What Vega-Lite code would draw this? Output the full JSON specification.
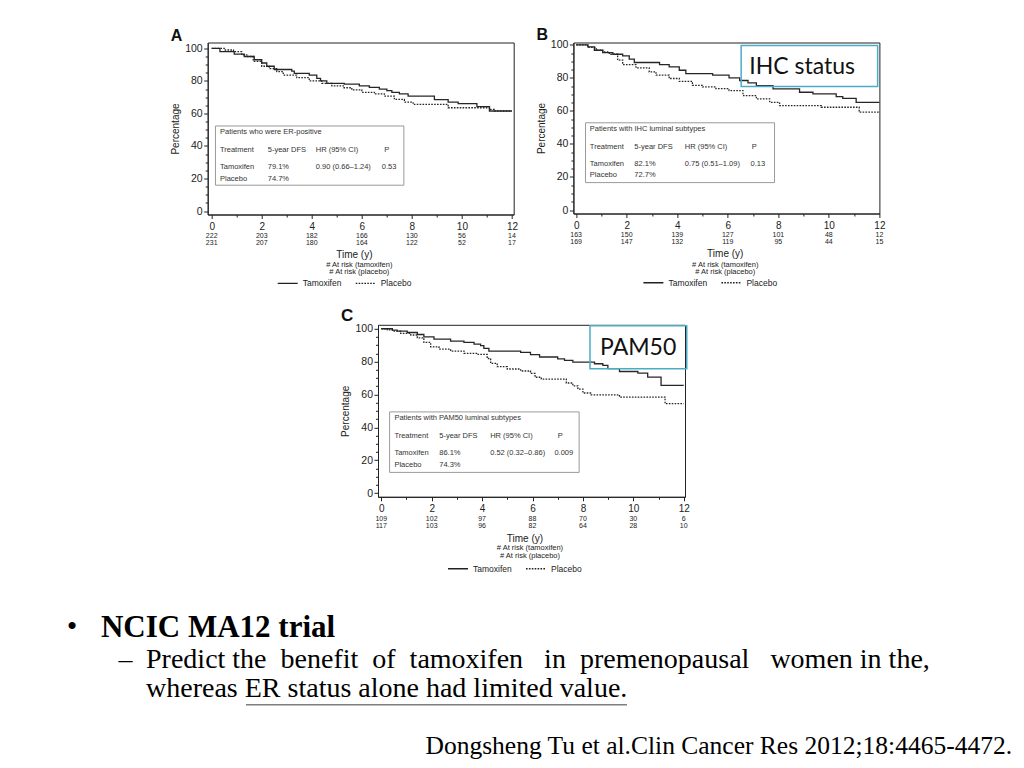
{
"$schema": "https://vega.github.io/schema/vega-lite/v6.json",
"padding": {"left": 0, "top": 25.5, "right": 0, "bottom": 0},
"autosize": {"type": "pad"},
"background": "white",
"config": {"font": "Liberation Sans", "view": {"stroke": null}, "axis": {"labelFont": "Liberation Sans", "titleFont": "Liberation Sans"}, "legend": {"labelFont": "Liberation Sans"}},
"datasets": {
"km": [
{"panel":"A","arm":"Tamoxifen","t":0,"s":100},{"panel":"A","arm":"Tamoxifen","t":0.33,"s":98},{"panel":"A","arm":"Tamoxifen","t":0.9,"s":96.5},{"panel":"A","arm":"Tamoxifen","t":1.3,"s":95},{"panel":"A","arm":"Tamoxifen","t":1.7,"s":93},{"panel":"A","arm":"Tamoxifen","t":2.0,"s":91},{"panel":"A","arm":"Tamoxifen","t":2.2,"s":89},{"panel":"A","arm":"Tamoxifen","t":2.5,"s":87},{"panel":"A","arm":"Tamoxifen","t":3.2,"s":86},{"panel":"A","arm":"Tamoxifen","t":3.3,"s":84.6},{"panel":"A","arm":"Tamoxifen","t":3.9,"s":83.5},{"panel":"A","arm":"Tamoxifen","t":4.2,"s":81.5},{"panel":"A","arm":"Tamoxifen","t":4.35,"s":80},{"panel":"A","arm":"Tamoxifen","t":4.6,"s":78.5},{"panel":"A","arm":"Tamoxifen","t":5.3,"s":78},{"panel":"A","arm":"Tamoxifen","t":5.9,"s":77},{"panel":"A","arm":"Tamoxifen","t":6.3,"s":76},{"panel":"A","arm":"Tamoxifen","t":6.7,"s":75},{"panel":"A","arm":"Tamoxifen","t":7.0,"s":74},{"panel":"A","arm":"Tamoxifen","t":7.2,"s":73},{"panel":"A","arm":"Tamoxifen","t":7.5,"s":72},{"panel":"A","arm":"Tamoxifen","t":7.85,"s":70.7},{"panel":"A","arm":"Tamoxifen","t":8.9,"s":68.5},{"panel":"A","arm":"Tamoxifen","t":9.45,"s":67},{"panel":"A","arm":"Tamoxifen","t":9.85,"s":66},{"panel":"A","arm":"Tamoxifen","t":10.6,"s":64.2},{"panel":"A","arm":"Tamoxifen","t":11.1,"s":61.5},{"panel":"A","arm":"Tamoxifen","t":12,"s":61.5},
{"panel":"A","arm":"Placebo","t":0,"s":100},{"panel":"A","arm":"Placebo","t":0.5,"s":99},{"panel":"A","arm":"Placebo","t":0.87,"s":98},{"panel":"A","arm":"Placebo","t":1.2,"s":96},{"panel":"A","arm":"Placebo","t":1.4,"s":95},{"panel":"A","arm":"Placebo","t":1.66,"s":92},{"panel":"A","arm":"Placebo","t":2.0,"s":89},{"panel":"A","arm":"Placebo","t":2.3,"s":87.5},{"panel":"A","arm":"Placebo","t":2.6,"s":85.7},{"panel":"A","arm":"Placebo","t":2.86,"s":83.6},{"panel":"A","arm":"Placebo","t":3.4,"s":82},{"panel":"A","arm":"Placebo","t":3.9,"s":80},{"panel":"A","arm":"Placebo","t":4.4,"s":78.5},{"panel":"A","arm":"Placebo","t":4.8,"s":77},{"panel":"A","arm":"Placebo","t":5.26,"s":75.8},{"panel":"A","arm":"Placebo","t":5.6,"s":74.5},{"panel":"A","arm":"Placebo","t":6.0,"s":73},{"panel":"A","arm":"Placebo","t":6.5,"s":72},{"panel":"A","arm":"Placebo","t":6.9,"s":70.7},{"panel":"A","arm":"Placebo","t":7.3,"s":68.6},{"panel":"A","arm":"Placebo","t":7.7,"s":67},{"panel":"A","arm":"Placebo","t":8.05,"s":65.6},{"panel":"A","arm":"Placebo","t":9.45,"s":63.5},{"panel":"A","arm":"Placebo","t":11.1,"s":62.5},{"panel":"A","arm":"Placebo","t":11.3,"s":61.5},{"panel":"A","arm":"Placebo","t":12,"s":61.5},
{"panel":"B","arm":"Tamoxifen","t":0,"s":100},{"panel":"B","arm":"Tamoxifen","t":0.46,"s":98.8},{"panel":"B","arm":"Tamoxifen","t":0.72,"s":96.7},{"panel":"B","arm":"Tamoxifen","t":1.05,"s":95.3},{"panel":"B","arm":"Tamoxifen","t":1.45,"s":94.3},{"panel":"B","arm":"Tamoxifen","t":1.84,"s":93.3},{"panel":"B","arm":"Tamoxifen","t":2.1,"s":91.3},{"panel":"B","arm":"Tamoxifen","t":2.3,"s":89.3},{"panel":"B","arm":"Tamoxifen","t":3.3,"s":88},{"panel":"B","arm":"Tamoxifen","t":3.68,"s":86.7},{"panel":"B","arm":"Tamoxifen","t":4.08,"s":84.6},{"panel":"B","arm":"Tamoxifen","t":4.34,"s":82.6},{"panel":"B","arm":"Tamoxifen","t":5.4,"s":81.6},{"panel":"B","arm":"Tamoxifen","t":6.05,"s":80},{"panel":"B","arm":"Tamoxifen","t":6.47,"s":78.4},{"panel":"B","arm":"Tamoxifen","t":6.8,"s":77},{"panel":"B","arm":"Tamoxifen","t":7.13,"s":75.3},{"panel":"B","arm":"Tamoxifen","t":7.79,"s":73.3},{"panel":"B","arm":"Tamoxifen","t":8.84,"s":71.3},{"panel":"B","arm":"Tamoxifen","t":9.37,"s":70.3},{"panel":"B","arm":"Tamoxifen","t":10.29,"s":68.7},{"panel":"B","arm":"Tamoxifen","t":10.55,"s":67.6},{"panel":"B","arm":"Tamoxifen","t":11.08,"s":65.2},{"panel":"B","arm":"Tamoxifen","t":12,"s":65.2},
{"panel":"B","arm":"Placebo","t":0,"s":100},{"panel":"B","arm":"Placebo","t":0.46,"s":98.5},{"panel":"B","arm":"Placebo","t":0.79,"s":96.7},{"panel":"B","arm":"Placebo","t":1.05,"s":95.7},{"panel":"B","arm":"Placebo","t":1.31,"s":94.3},{"panel":"B","arm":"Placebo","t":1.64,"s":90.7},{"panel":"B","arm":"Placebo","t":1.84,"s":88},{"panel":"B","arm":"Placebo","t":2.37,"s":86},{"panel":"B","arm":"Placebo","t":2.89,"s":83.6},{"panel":"B","arm":"Placebo","t":3.16,"s":81.6},{"panel":"B","arm":"Placebo","t":3.68,"s":79.6},{"panel":"B","arm":"Placebo","t":4.08,"s":77.9},{"panel":"B","arm":"Placebo","t":4.6,"s":75.5},{"panel":"B","arm":"Placebo","t":5.0,"s":74.5},{"panel":"B","arm":"Placebo","t":5.53,"s":73.5},{"panel":"B","arm":"Placebo","t":6.05,"s":72.3},{"panel":"B","arm":"Placebo","t":6.6,"s":69.3},{"panel":"B","arm":"Placebo","t":7.13,"s":67.3},{"panel":"B","arm":"Placebo","t":7.66,"s":65.2},{"panel":"B","arm":"Placebo","t":8.05,"s":63.2},{"panel":"B","arm":"Placebo","t":9.7,"s":62.2},{"panel":"B","arm":"Placebo","t":11.2,"s":59.2},{"panel":"B","arm":"Placebo","t":12,"s":59.2},
{"panel":"C","arm":"Tamoxifen","t":0,"s":100},{"panel":"C","arm":"Tamoxifen","t":0.44,"s":99.2},{"panel":"C","arm":"Tamoxifen","t":0.63,"s":98.6},{"panel":"C","arm":"Tamoxifen","t":1.03,"s":97.7},{"panel":"C","arm":"Tamoxifen","t":1.43,"s":96.5},{"panel":"C","arm":"Tamoxifen","t":1.69,"s":95.1},{"panel":"C","arm":"Tamoxifen","t":2.09,"s":93.7},{"panel":"C","arm":"Tamoxifen","t":2.75,"s":92.5},{"panel":"C","arm":"Tamoxifen","t":3.28,"s":91.7},{"panel":"C","arm":"Tamoxifen","t":3.68,"s":90.7},{"panel":"C","arm":"Tamoxifen","t":3.94,"s":89.7},{"panel":"C","arm":"Tamoxifen","t":4.07,"s":88},{"panel":"C","arm":"Tamoxifen","t":4.27,"s":86.4},{"panel":"C","arm":"Tamoxifen","t":5.53,"s":85.6},{"panel":"C","arm":"Tamoxifen","t":5.92,"s":84.2},{"panel":"C","arm":"Tamoxifen","t":6.28,"s":82.8},{"panel":"C","arm":"Tamoxifen","t":7.0,"s":81.7},{"panel":"C","arm":"Tamoxifen","t":7.27,"s":80.7},{"panel":"C","arm":"Tamoxifen","t":7.6,"s":79.7},{"panel":"C","arm":"Tamoxifen","t":8.46,"s":78.7},{"panel":"C","arm":"Tamoxifen","t":8.79,"s":77.7},{"panel":"C","arm":"Tamoxifen","t":8.99,"s":75.7},{"panel":"C","arm":"Tamoxifen","t":9.45,"s":74},{"panel":"C","arm":"Tamoxifen","t":10.18,"s":73},{"panel":"C","arm":"Tamoxifen","t":10.57,"s":70.6},{"panel":"C","arm":"Tamoxifen","t":11.1,"s":65.5},{"panel":"C","arm":"Tamoxifen","t":12,"s":65.5},
{"panel":"C","arm":"Placebo","t":0,"s":100},{"panel":"C","arm":"Placebo","t":0.24,"s":99.3},{"panel":"C","arm":"Placebo","t":0.44,"s":98.6},{"panel":"C","arm":"Placebo","t":0.77,"s":97.2},{"panel":"C","arm":"Placebo","t":1.17,"s":96.2},{"panel":"C","arm":"Placebo","t":1.43,"s":94.5},{"panel":"C","arm":"Placebo","t":1.69,"s":91.7},{"panel":"C","arm":"Placebo","t":1.96,"s":89},{"panel":"C","arm":"Placebo","t":2.29,"s":87.6},{"panel":"C","arm":"Placebo","t":2.75,"s":86.4},{"panel":"C","arm":"Placebo","t":3.28,"s":85},{"panel":"C","arm":"Placebo","t":3.81,"s":84.4},{"panel":"C","arm":"Placebo","t":4.2,"s":81.9},{"panel":"C","arm":"Placebo","t":4.34,"s":78.9},{"panel":"C","arm":"Placebo","t":4.6,"s":76.9},{"panel":"C","arm":"Placebo","t":5.0,"s":75.5},{"panel":"C","arm":"Placebo","t":5.53,"s":74.3},{"panel":"C","arm":"Placebo","t":5.92,"s":72.8},{"panel":"C","arm":"Placebo","t":6.1,"s":70.5},{"panel":"C","arm":"Placebo","t":6.35,"s":69.4},{"panel":"C","arm":"Placebo","t":7.34,"s":67},{"panel":"C","arm":"Placebo","t":7.6,"s":65.3},{"panel":"C","arm":"Placebo","t":7.8,"s":63.3},{"panel":"C","arm":"Placebo","t":8.0,"s":60.9},{"panel":"C","arm":"Placebo","t":8.33,"s":59.8},{"panel":"C","arm":"Placebo","t":9.45,"s":58.4},{"panel":"C","arm":"Placebo","t":11.26,"s":54.4},{"panel":"C","arm":"Placebo","t":12,"s":54.4}
],
"risk": [
{"panel":"A","arm":"Tamoxifen","t":0,"n":222},{"panel":"A","arm":"Tamoxifen","t":2,"n":203},{"panel":"A","arm":"Tamoxifen","t":4,"n":182},{"panel":"A","arm":"Tamoxifen","t":6,"n":166},{"panel":"A","arm":"Tamoxifen","t":8,"n":130},{"panel":"A","arm":"Tamoxifen","t":10,"n":56},{"panel":"A","arm":"Tamoxifen","t":12,"n":14},
{"panel":"A","arm":"Placebo","t":0,"n":231},{"panel":"A","arm":"Placebo","t":2,"n":207},{"panel":"A","arm":"Placebo","t":4,"n":180},{"panel":"A","arm":"Placebo","t":6,"n":164},{"panel":"A","arm":"Placebo","t":8,"n":122},{"panel":"A","arm":"Placebo","t":10,"n":52},{"panel":"A","arm":"Placebo","t":12,"n":17},
{"panel":"B","arm":"Tamoxifen","t":0,"n":163},{"panel":"B","arm":"Tamoxifen","t":2,"n":150},{"panel":"B","arm":"Tamoxifen","t":4,"n":139},{"panel":"B","arm":"Tamoxifen","t":6,"n":127},{"panel":"B","arm":"Tamoxifen","t":8,"n":101},{"panel":"B","arm":"Tamoxifen","t":10,"n":48},{"panel":"B","arm":"Tamoxifen","t":12,"n":12},
{"panel":"B","arm":"Placebo","t":0,"n":169},{"panel":"B","arm":"Placebo","t":2,"n":147},{"panel":"B","arm":"Placebo","t":4,"n":132},{"panel":"B","arm":"Placebo","t":6,"n":119},{"panel":"B","arm":"Placebo","t":8,"n":95},{"panel":"B","arm":"Placebo","t":10,"n":44},{"panel":"B","arm":"Placebo","t":12,"n":15},
{"panel":"C","arm":"Tamoxifen","t":0,"n":109},{"panel":"C","arm":"Tamoxifen","t":2,"n":102},{"panel":"C","arm":"Tamoxifen","t":4,"n":97},{"panel":"C","arm":"Tamoxifen","t":6,"n":88},{"panel":"C","arm":"Tamoxifen","t":8,"n":70},{"panel":"C","arm":"Tamoxifen","t":10,"n":30},{"panel":"C","arm":"Tamoxifen","t":12,"n":6},
{"panel":"C","arm":"Placebo","t":0,"n":117},{"panel":"C","arm":"Placebo","t":2,"n":103},{"panel":"C","arm":"Placebo","t":4,"n":96},{"panel":"C","arm":"Placebo","t":6,"n":82},{"panel":"C","arm":"Placebo","t":8,"n":64},{"panel":"C","arm":"Placebo","t":10,"n":28},{"panel":"C","arm":"Placebo","t":12,"n":10}
],
"tbl": [
{"panel":"A","t":0.33,"p":48.4,"txt":"Patients who were ER-positive"},
{"panel":"A","t":0.33,"p":37.5,"txt":"Treatment"},{"panel":"A","t":2.24,"p":37.5,"txt":"5-year DFS"},{"panel":"A","t":4.16,"p":37.5,"txt":"HR (95% CI)"},{"panel":"A","t":6.9,"p":37.5,"txt":"P"},
{"panel":"A","t":0.33,"p":27,"txt":"Tamoxifen"},{"panel":"A","t":2.24,"p":27,"txt":"79.1%"},{"panel":"A","t":4.16,"p":27,"txt":"0.90 (0.66–1.24)"},{"panel":"A","t":6.8,"p":27,"txt":"0.53"},
{"panel":"A","t":0.33,"p":20,"txt":"Placebo"},{"panel":"A","t":2.24,"p":20,"txt":"74.7%"},
{"panel":"B","t":0.54,"p":48.9,"txt":"Patients with IHC luminal subtypes"},
{"panel":"B","t":0.54,"p":38.2,"txt":"Treatment"},{"panel":"B","t":2.3,"p":38.2,"txt":"5-year DFS"},{"panel":"B","t":4.3,"p":38.2,"txt":"HR (95% CI)"},{"panel":"B","t":6.95,"p":38.2,"txt":"P"},
{"panel":"B","t":0.54,"p":27.6,"txt":"Tamoxifen"},{"panel":"B","t":2.3,"p":27.6,"txt":"82.1%"},{"panel":"B","t":4.3,"p":27.6,"txt":"0.75 (0.51–1.09)"},{"panel":"B","t":6.9,"p":27.6,"txt":"0.13"},
{"panel":"B","t":0.54,"p":21.1,"txt":"Placebo"},{"panel":"B","t":2.3,"p":21.1,"txt":"72.7%"},
{"panel":"C","t":0.52,"p":45.4,"txt":"Patients with PAM50 luminal subtypes"},
{"panel":"C","t":0.52,"p":34.6,"txt":"Treatment"},{"panel":"C","t":2.3,"p":34.6,"txt":"5-year DFS"},{"panel":"C","t":4.32,"p":34.6,"txt":"HR (95% CI)"},{"panel":"C","t":7.0,"p":34.6,"txt":"P"},
{"panel":"C","t":0.52,"p":24.2,"txt":"Tamoxifen"},{"panel":"C","t":2.3,"p":24.2,"txt":"86.1%"},{"panel":"C","t":4.32,"p":24.2,"txt":"0.52 (0.32–0.86)"},{"panel":"C","t":6.87,"p":24.2,"txt":"0.009"},
{"panel":"C","t":0.52,"p":17.3,"txt":"Placebo"},{"panel":"C","t":2.3,"p":17.3,"txt":"74.3%"}
],
"box": [
{"panel":"A","t1":0.15,"t2":7.68,"p1":52.3,"p2":15.9},
{"panel":"B","t1":0.37,"t2":7.85,"p1":52.8,"p2":16.6},
{"panel":"C","t1":0.33,"t2":7.85,"p1":49.4,"p2":12.6}
],
"callout": [
{"panel":"B","t1":6.53,"t2":11.93,"p1":99.6,"p2":74.7,"tc":8.94,"pc":86.4,"label":"IHC status"},
{"panel":"C","t1":8.28,"t2":12.12,"p1":101.8,"p2":75.7,"tc":10.19,"pc":88.3,"label":"PAM50"}
]
},
"spacing": 16.3,
"resolve": {"scale": {"strokeDash": "independent"}, "legend": {"strokeDash": "independent"}},
"vconcat": [
{
"spacing": 16.7,
"resolve": {"scale": {"strokeDash": "independent"}, "legend": {"strokeDash": "independent"}},
"hconcat": [
{"width": 152.1, "height": 1, "data": {"values": [{}]}, "mark": {"type": "rect", "opacity": 0}, "encoding": {}},
{
"width": 306, "height": 172,
"view": {"stroke": "#222", "strokeWidth": 1},
"resolve": {"axis": {"x": "independent", "y": "independent"}},
"title": {"text": "A", "anchor": "start", "frame": "bounds", "fontSize": 16, "fontWeight": "bold", "font": "Liberation Sans", "color": "#111", "offset": -14.2, "baseline": "alphabetic"},
"layer": [
{"data": {"name": "km"}, "transform": [{"filter": "datum.panel === 'A'"}],
 "mark": {"type": "line", "interpolate": "step-after", "strokeWidth": 1.3, "color": "#262626"},
 "encoding": {
  "x": {"field": "t", "type": "quantitative", "scale": {"domain": [-0.16, 12.07], "nice": false, "zero": false},
   "axis": {"values": [0,0.5,1,1.5,2,2.5,3,3.5,4,4.5,5,5.5,6,6.5,7,7.5,8,8.5,9,9.5,10,10.5,11,11.5,12], "format": "d", "labelExpr": "datum.value % 2 === 0 ? datum.label : ''", "tickSize": {"condition": {"test": "datum.value % 2 === 0", "value": 4}, "value": 2.5}, "title": null, "grid": false, "domainColor": "#222", "tickColor": "#222", "labelColor": "#222", "labelFontSize": 10, "labelPadding": 2.5, "labelFlush": false, "labelOverlap": false}},
  "y": {"field": "s", "type": "quantitative", "scale": {"domain": [-2.1, 103.6], "nice": false, "zero": false},
   "axis": {"values": [0,5,10,15,20,25,30,35,40,45,50,55,60,65,70,75,80,85,90,95,100], "format": "d", "labelExpr": "datum.value % 20 === 0 ? datum.label : ''", "tickSize": {"condition": {"test": "datum.value % 20 === 0", "value": 4}, "value": 2.5}, "title": "Percentage", "titleFontSize": 10, "titleFontWeight": "normal", "titleColor": "#222", "titlePadding": 4, "grid": false, "domainColor": "#222", "tickColor": "#222", "labelColor": "#222", "labelFontSize": 10.5, "labelPadding": 1.5, "labelOverlap": false, "labelFlush": false}},
  "strokeDash": {"field": "arm", "type": "nominal", "scale": {"domain": ["Tamoxifen", "Placebo"], "range": [[1, 0], [1.6, 1.3]]},
   "legend": {"orient": "none", "legendX": 69, "legendY": 229.6, "direction": "horizontal", "title": null, "symbolType": "stroke", "symbolSize": 400, "symbolStrokeWidth": 1.3, "symbolStrokeColor": "#222", "labelFontSize": 8.5, "labelColor": "#222", "columnPadding": 11, "labelOffset": 4, "padding": 0}}
 }},
{"data": {"name": "box"}, "transform": [{"filter": "datum.panel === 'A'"}],
 "mark": {"type": "rect", "fill": "white", "stroke": "#9a9a9a", "strokeWidth": 1},
 "encoding": {"x": {"field": "t1", "type": "quantitative", "axis": null}, "x2": {"field": "t2"}, "y": {"field": "p1", "type": "quantitative", "axis": null}, "y2": {"field": "p2"}}},
{"data": {"name": "tbl"}, "transform": [{"filter": "datum.panel === 'A'"}],
 "mark": {"type": "text", "align": "left", "baseline": "middle", "fontSize": 7.5, "color": "#333"},
 "encoding": {"x": {"field": "t", "type": "quantitative", "axis": null}, "y": {"field": "p", "type": "quantitative", "axis": null}, "text": {"field": "txt"}}},
{"data": {"name": "risk"}, "transform": [{"filter": "datum.panel === 'A' && datum.arm === 'Tamoxifen'"}],
 "mark": {"type": "text", "align": "center", "baseline": "middle", "fontSize": 7, "dy": 21, "color": "#222"},
 "encoding": {"x": {"field": "t", "type": "quantitative", "axis": null}, "y": {"datum": -2.1, "type": "quantitative", "axis": null}, "text": {"field": "n"}}},
{"data": {"name": "risk"}, "transform": [{"filter": "datum.panel === 'A' && datum.arm === 'Placebo'"}],
 "mark": {"type": "text", "align": "center", "baseline": "middle", "fontSize": 7, "dy": 28.5, "color": "#222"},
 "encoding": {"x": {"field": "t", "type": "quantitative", "axis": null}, "y": {"datum": -2.1, "type": "quantitative", "axis": null}, "text": {"field": "n"}}},
{"data": {"values": [{}]},
 "mark": {"type": "text", "align": "center", "baseline": "middle", "fontSize": 10, "dy": 40, "color": "#222"},
 "encoding": {"x": {"datum": 5.7, "type": "quantitative", "axis": null}, "y": {"datum": -2.1, "type": "quantitative", "axis": null}, "text": {"value": "Time (y)"}}},
{"data": {"values": [{}]},
 "mark": {"type": "text", "align": "center", "baseline": "top", "fontSize": 7.5, "lineHeight": 7, "dy": 46.3, "color": "#222"},
 "encoding": {"x": {"datum": 5.9, "type": "quantitative", "axis": null}, "y": {"datum": -2.1, "type": "quantitative", "axis": null}, "text": {"value": ["# At risk (tamoxifen)", "# At risk (placebo)"]}}}
]
},
{
"width": 306, "height": 171,
"view": {"stroke": "#222", "strokeWidth": 1},
"resolve": {"axis": {"x": "independent", "y": "independent"}},
"title": {"text": "B", "anchor": "start", "frame": "bounds", "fontSize": 16, "fontWeight": "bold", "font": "Liberation Sans", "color": "#111", "offset": -15.7, "baseline": "alphabetic"},
"layer": [
{"data": {"name": "km"}, "transform": [{"filter": "datum.panel === 'B'"}],
 "mark": {"type": "line", "interpolate": "step-after", "strokeWidth": 1.3, "color": "#262626"},
 "encoding": {
  "x": {"field": "t", "type": "quantitative", "scale": {"domain": [-0.11, 12.0], "nice": false, "zero": false},
   "axis": {"values": [0,0.5,1,1.5,2,2.5,3,3.5,4,4.5,5,5.5,6,6.5,7,7.5,8,8.5,9,9.5,10,10.5,11,11.5,12], "format": "d", "labelExpr": "datum.value % 2 === 0 ? datum.label : ''", "tickSize": {"condition": {"test": "datum.value % 2 === 0", "value": 4}, "value": 2.5}, "title": null, "grid": false, "domainColor": "#222", "tickColor": "#222", "labelColor": "#222", "labelFontSize": 10, "labelPadding": 2.5, "labelFlush": false, "labelOverlap": false}},
  "y": {"field": "s", "type": "quantitative", "scale": {"domain": [-2.1, 101.4], "nice": false, "zero": false},
   "axis": {"values": [0,5,10,15,20,25,30,35,40,45,50,55,60,65,70,75,80,85,90,95,100], "format": "d", "labelExpr": "datum.value % 20 === 0 ? datum.label : ''", "tickSize": {"condition": {"test": "datum.value % 20 === 0", "value": 4}, "value": 2.5}, "title": "Percentage", "titleFontSize": 10, "titleFontWeight": "normal", "titleColor": "#222", "titlePadding": 4, "grid": false, "domainColor": "#222", "tickColor": "#222", "labelColor": "#222", "labelFontSize": 10.5, "labelPadding": 1.5, "labelOverlap": false, "labelFlush": false}},
  "strokeDash": {"field": "arm", "type": "nominal", "scale": {"domain": ["Tamoxifen", "Placebo"], "range": [[1, 0], [1.6, 1.3]]},
   "legend": {"orient": "none", "legendX": 69, "legendY": 229, "direction": "horizontal", "title": null, "symbolType": "stroke", "symbolSize": 400, "symbolStrokeWidth": 1.3, "symbolStrokeColor": "#222", "labelFontSize": 8.5, "labelColor": "#222", "columnPadding": 11, "labelOffset": 4, "padding": 0}}
 }},
{"data": {"name": "box"}, "transform": [{"filter": "datum.panel === 'B'"}],
 "mark": {"type": "rect", "fill": "white", "stroke": "#9a9a9a", "strokeWidth": 1},
 "encoding": {"x": {"field": "t1", "type": "quantitative", "axis": null}, "x2": {"field": "t2"}, "y": {"field": "p1", "type": "quantitative", "axis": null}, "y2": {"field": "p2"}}},
{"data": {"name": "tbl"}, "transform": [{"filter": "datum.panel === 'B'"}],
 "mark": {"type": "text", "align": "left", "baseline": "middle", "fontSize": 7.5, "color": "#333"},
 "encoding": {"x": {"field": "t", "type": "quantitative", "axis": null}, "y": {"field": "p", "type": "quantitative", "axis": null}, "text": {"field": "txt"}}},
{"data": {"name": "risk"}, "transform": [{"filter": "datum.panel === 'B' && datum.arm === 'Tamoxifen'"}],
 "mark": {"type": "text", "align": "center", "baseline": "middle", "fontSize": 7, "dy": 21, "color": "#222"},
 "encoding": {"x": {"field": "t", "type": "quantitative", "axis": null}, "y": {"datum": -2.1, "type": "quantitative", "axis": null}, "text": {"field": "n"}}},
{"data": {"name": "risk"}, "transform": [{"filter": "datum.panel === 'B' && datum.arm === 'Placebo'"}],
 "mark": {"type": "text", "align": "center", "baseline": "middle", "fontSize": 7, "dy": 28.5, "color": "#222"},
 "encoding": {"x": {"field": "t", "type": "quantitative", "axis": null}, "y": {"datum": -2.1, "type": "quantitative", "axis": null}, "text": {"field": "n"}}},
{"data": {"values": [{}]},
 "mark": {"type": "text", "align": "center", "baseline": "middle", "fontSize": 10, "dy": 40, "color": "#222"},
 "encoding": {"x": {"datum": 5.9, "type": "quantitative", "axis": null}, "y": {"datum": -2.1, "type": "quantitative", "axis": null}, "text": {"value": "Time (y)"}}},
{"data": {"values": [{}]},
 "mark": {"type": "text", "align": "center", "baseline": "top", "fontSize": 7.5, "lineHeight": 7.4, "dy": 47, "color": "#222"},
 "encoding": {"x": {"datum": 5.9, "type": "quantitative", "axis": null}, "y": {"datum": -2.1, "type": "quantitative", "axis": null}, "text": {"value": ["# At risk (tamoxifen)", "# At risk (placebo)"]}}},
{"data": {"name": "callout"}, "transform": [{"filter": "datum.panel === 'B'"}],
 "mark": {"type": "rect", "fillOpacity": 0, "fill": "white", "stroke": "#4bacc6", "strokeWidth": 1.5},
 "encoding": {"x": {"field": "t1", "type": "quantitative", "axis": null}, "x2": {"field": "t2"}, "y": {"field": "p1", "type": "quantitative", "axis": null}, "y2": {"field": "p2"}}},
{"data": {"name": "callout"}, "transform": [{"filter": "datum.panel === 'B'"}],
 "mark": {"type": "text", "align": "center", "baseline": "middle", "font": "Lato", "fontSize": 23, "color": "#111"},
 "encoding": {"x": {"field": "tc", "type": "quantitative", "axis": null}, "y": {"field": "pc", "type": "quantitative", "axis": null}, "text": {"field": "label"}}}
]
}
]
},
{
"spacing": 0,
"resolve": {"scale": {"strokeDash": "independent"}, "legend": {"strokeDash": "independent"}},
"hconcat": [
{"width": 339.5, "height": 1, "data": {"values": [{}]}, "mark": {"type": "rect", "opacity": 0}, "encoding": {}},
{
"width": 307, "height": 172,
"view": {"stroke": "#222", "strokeWidth": 1},
"resolve": {"axis": {"x": "independent", "y": "independent"}},
"title": {"text": "C", "anchor": "start", "frame": "bounds", "fontSize": 17, "fontWeight": "bold", "font": "Liberation Sans", "color": "#111", "offset": -14.2, "baseline": "alphabetic"},
"layer": [
{"data": {"name": "km"}, "transform": [{"filter": "datum.panel === 'C'"}],
 "mark": {"type": "line", "interpolate": "step-after", "strokeWidth": 1.3, "color": "#262626"},
 "encoding": {
  "x": {"field": "t", "type": "quantitative", "scale": {"domain": [-0.13, 12.05], "nice": false, "zero": false},
   "axis": {"values": [0,0.5,1,1.5,2,2.5,3,3.5,4,4.5,5,5.5,6,6.5,7,7.5,8,8.5,9,9.5,10,10.5,11,11.5,12], "format": "d", "labelExpr": "datum.value % 2 === 0 ? datum.label : ''", "tickSize": {"condition": {"test": "datum.value % 2 === 0", "value": 4}, "value": 2.5}, "title": null, "grid": false, "domainColor": "#222", "tickColor": "#222", "labelColor": "#222", "labelFontSize": 10, "labelPadding": 2.5, "labelFlush": false, "labelOverlap": false}},
  "y": {"field": "s", "type": "quantitative", "scale": {"domain": [-2.25, 102.4], "nice": false, "zero": false},
   "axis": {"values": [0,5,10,15,20,25,30,35,40,45,50,55,60,65,70,75,80,85,90,95,100], "format": "d", "labelExpr": "datum.value % 20 === 0 ? datum.label : ''", "tickSize": {"condition": {"test": "datum.value % 20 === 0", "value": 4}, "value": 2.5}, "title": "Percentage", "titleFontSize": 10, "titleFontWeight": "normal", "titleColor": "#222", "titlePadding": 4, "grid": false, "domainColor": "#222", "tickColor": "#222", "labelColor": "#222", "labelFontSize": 10.5, "labelPadding": 1.5, "labelOverlap": false, "labelFlush": false}},
  "strokeDash": {"field": "arm", "type": "nominal", "scale": {"domain": ["Tamoxifen", "Placebo"], "range": [[1, 0], [1.6, 1.3]]},
   "legend": {"orient": "none", "legendX": 69, "legendY": 232.7, "direction": "horizontal", "title": null, "symbolType": "stroke", "symbolSize": 400, "symbolStrokeWidth": 1.3, "symbolStrokeColor": "#222", "labelFontSize": 8.5, "labelColor": "#222", "columnPadding": 11, "labelOffset": 4, "padding": 0}}
 }},
{"data": {"name": "box"}, "transform": [{"filter": "datum.panel === 'C'"}],
 "mark": {"type": "rect", "fill": "white", "stroke": "#9a9a9a", "strokeWidth": 1},
 "encoding": {"x": {"field": "t1", "type": "quantitative", "axis": null}, "x2": {"field": "t2"}, "y": {"field": "p1", "type": "quantitative", "axis": null}, "y2": {"field": "p2"}}},
{"data": {"name": "tbl"}, "transform": [{"filter": "datum.panel === 'C'"}],
 "mark": {"type": "text", "align": "left", "baseline": "middle", "fontSize": 7.5, "color": "#333"},
 "encoding": {"x": {"field": "t", "type": "quantitative", "axis": null}, "y": {"field": "p", "type": "quantitative", "axis": null}, "text": {"field": "txt"}}},
{"data": {"name": "risk"}, "transform": [{"filter": "datum.panel === 'C' && datum.arm === 'Tamoxifen'"}],
 "mark": {"type": "text", "align": "center", "baseline": "middle", "fontSize": 7, "dy": 22, "color": "#222"},
 "encoding": {"x": {"field": "t", "type": "quantitative", "axis": null}, "y": {"datum": -2.25, "type": "quantitative", "axis": null}, "text": {"field": "n"}}},
{"data": {"name": "risk"}, "transform": [{"filter": "datum.panel === 'C' && datum.arm === 'Placebo'"}],
 "mark": {"type": "text", "align": "center", "baseline": "middle", "fontSize": 7, "dy": 29.5, "color": "#222"},
 "encoding": {"x": {"field": "t", "type": "quantitative", "axis": null}, "y": {"datum": -2.25, "type": "quantitative", "axis": null}, "text": {"field": "n"}}},
{"data": {"values": [{}]},
 "mark": {"type": "text", "align": "center", "baseline": "middle", "fontSize": 10, "dy": 41.7, "color": "#222"},
 "encoding": {"x": {"datum": 5.7, "type": "quantitative", "axis": null}, "y": {"datum": -2.25, "type": "quantitative", "axis": null}, "text": {"value": "Time (y)"}}},
{"data": {"values": [{}]},
 "mark": {"type": "text", "align": "center", "baseline": "top", "fontSize": 7.5, "lineHeight": 8, "dy": 47.6, "color": "#222"},
 "encoding": {"x": {"datum": 5.9, "type": "quantitative", "axis": null}, "y": {"datum": -2.25, "type": "quantitative", "axis": null}, "text": {"value": ["# At risk (tamoxifen)", "# At risk (placebo)"]}}},
{"data": {"name": "callout"}, "transform": [{"filter": "datum.panel === 'C'"}],
 "mark": {"type": "rect", "fillOpacity": 0, "fill": "white", "stroke": "#4bacc6", "strokeWidth": 1.5},
 "encoding": {"x": {"field": "t1", "type": "quantitative", "axis": null}, "x2": {"field": "t2"}, "y": {"field": "p1", "type": "quantitative", "axis": null}, "y2": {"field": "p2"}}},
{"data": {"name": "callout"}, "transform": [{"filter": "datum.panel === 'C'"}],
 "mark": {"type": "text", "align": "center", "baseline": "middle", "font": "Lato", "fontSize": 23, "color": "#111"},
 "encoding": {"x": {"field": "tc", "type": "quantitative", "axis": null}, "y": {"field": "pc", "type": "quantitative", "axis": null}, "text": {"field": "label"}}}
]
}
]
},
{
"width": 1024, "height": 174,
"data": {"values": [{}]},
"layer": [
{"mark": {"type": "text", "font": "Liberation Sans", "fontSize": 26, "align": "center", "baseline": "middle", "color": "#000"},
 "encoding": {"x": {"datum": 7.03, "type": "quantitative", "scale": {"domain": [0, 100], "nice": false, "zero": false}, "axis": null}, "y": {"datum": 19.9, "type": "quantitative", "scale": {"domain": [0, 100], "reverse": true, "nice": false, "zero": false}, "axis": null}, "text": {"value": "•"}}},
{"mark": {"type": "text", "font": "Liberation Serif", "fontSize": 31, "fontWeight": "bold", "align": "left", "baseline": "alphabetic", "color": "#000"},
 "encoding": {"x": {"datum": 9.86, "type": "quantitative", "axis": null}, "y": {"datum": 26.2, "type": "quantitative", "axis": null}, "text": {"value": "NCIC MA12 trial"}}},
{"mark": {"type": "text", "font": "Liberation Serif", "fontSize": 28, "align": "center", "baseline": "alphabetic", "color": "#000"},
 "encoding": {"x": {"datum": 12.26, "type": "quantitative", "axis": null}, "y": {"datum": 44.0, "type": "quantitative", "axis": null}, "text": {"value": "–"}}},
{"mark": {"type": "text", "font": "Liberation Serif", "fontSize": 28, "align": "left", "baseline": "alphabetic", "color": "#000"},
 "encoding": {"x": {"datum": 14.26, "type": "quantitative", "axis": null}, "y": {"datum": 44.0, "type": "quantitative", "axis": null}, "text": {"value": "Predict the\u00a0 benefit\u00a0 of\u00a0 tamoxifen\u00a0\u00a0 in\u00a0 premenopausal\u00a0\u00a0 women in the,"}}},
{"mark": {"type": "text", "font": "Liberation Serif", "fontSize": 28, "align": "left", "baseline": "alphabetic", "color": "#000"},
 "encoding": {"x": {"datum": 14.26, "type": "quantitative", "axis": null}, "y": {"datum": 60.7, "type": "quantitative", "axis": null}, "text": {"value": "whereas ER status alone had limited value."}}},
{"mark": {"type": "rule", "color": "#7f7f7f", "strokeWidth": 1.5},
 "encoding": {"x": {"datum": 24.02, "type": "quantitative", "axis": null}, "x2": {"datum": 61.23}, "y": {"datum": 65.3, "type": "quantitative", "axis": null}}},
{"mark": {"type": "text", "font": "Liberation Serif", "fontSize": 25.5, "align": "right", "baseline": "alphabetic", "color": "#000"},
 "encoding": {"x": {"datum": 98.83, "type": "quantitative", "axis": null}, "y": {"datum": 93.4, "type": "quantitative", "axis": null}, "text": {"value": "Dongsheng Tu et al.Clin Cancer Res 2012;18:4465-4472."}}}
]
}
]
}
